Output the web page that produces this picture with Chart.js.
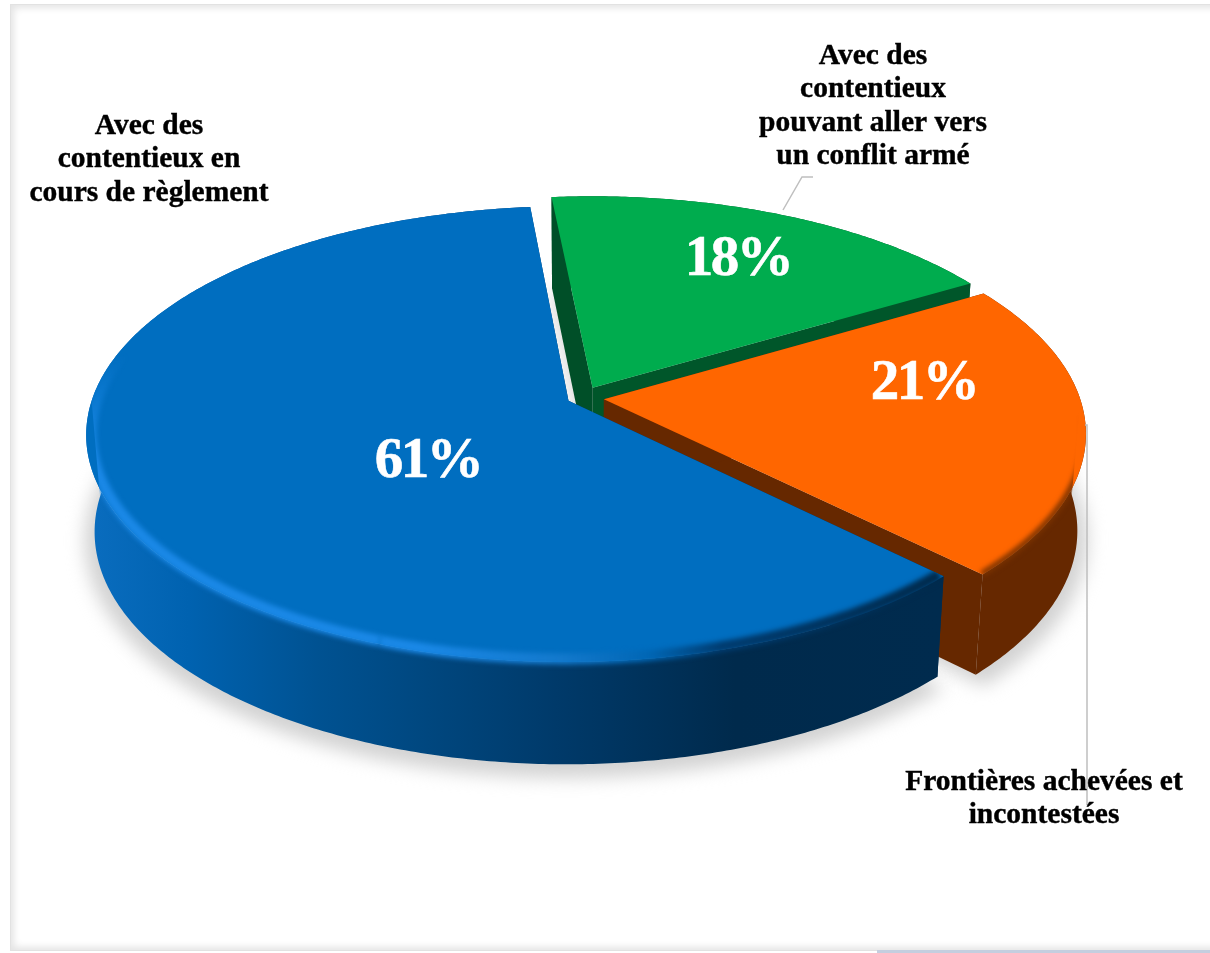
<!DOCTYPE html>
<html lang="fr">
<head>
<meta charset="utf-8">
<title>Frontières</title>
<script src="https://cdn.jsdelivr.net/npm/chart.js@4/dist/chart.umd.js"></script>
<style>
  html, body { margin: 0; padding: 0; background: #fff; overflow: hidden; }
  #page { position: relative; width: 1210px; height: 953px; overflow: hidden; }
  #frame {
    position: absolute; left: 10px; top: 4px; width: 1240px; height: 945px;
    border: 1px solid #e2e2e2;
    box-shadow: inset 0 0 7px 3px #e4e4e4;
  }
  #strip { position: absolute; left: 877px; top: 950px; width: 333px; height: 3px; background: #c4cedf; }
  canvas { position: absolute; left: 0; top: 0; }
</style>
</head>
<body>
<div id="page">
  <div id="frame"></div>
  <div id="strip"></div>
  <canvas id="chart" width="1210" height="953"></canvas>
</div>
<script>
const categories = [
  "Avec des contentieux pouvant aller vers un conflit armé",
  "Frontières achevées et incontestées",
  "Avec des contentieux en cours de règlement",
];
const shares = [18, 21, 61];

// slice styling, same order as the categories
const top_colors = ["#00ac4e", "#ff6600", "#006ec0"];
const wall_colors = ["#00502a", "#662800", "#002a4c"];
const explode = [24, 22, 14];

// view of the tilted disc
const VIEW = { cx: 581.5, cy: 398, rx: 476, ry: 222.2, persp: 0.1455, depth: 96, base_x: 0.983, base_y: 1.024 };

// name lines and where they sit, one entry per category
const name_labels = [
  { x: 873, y: 56, lines: ["Avec des", "contentieux", "pouvant aller vers", "un conflit armé"] },
  { x: 1044, y: 782, lines: ["Frontières achevées et", "incontestées"] },
  { x: 149, y: 126, lines: ["Avec des", "contentieux en", "cours de règlement"] },
];
const value_anchors = [[738, 260], [924, 384], [428, 462]];
const leaders = [
  [[783, 210], [802, 177], [813, 177]],
  [[1085, 425], [1087, 425], [1087, 805]],
];

function disc_point(arc, angle, radius_scale) {
  const mid = (arc.startAngle + arc.endAngle) / 2;
  const off = arc.options.offset / arc.outerRadius;
  return {
    x: Math.cos(angle) * radius_scale + Math.cos(mid) * off,
    z: Math.sin(angle) * radius_scale + Math.sin(mid) * off,
  };
}

function top_xy(p) {
  const s = 1 / (1 - VIEW.persp * p.z);
  return [VIEW.cx + VIEW.rx * p.x * s, VIEW.cy + VIEW.ry * p.z * s];
}

function base_xy(p, grow = 1, drop = 0) {
  const s = 1 / (1 - VIEW.persp * p.z);
  return [
    VIEW.cx + VIEW.rx * p.x * s * VIEW.base_x * grow,
    VIEW.cy + VIEW.depth + drop + VIEW.ry * p.z * s * VIEW.base_y * grow,
  ];
}

function rim_points(arc, from, to, project, radius_scale = 1) {
  const steps = Math.max(2, Math.ceil(Math.abs(to - from) / 0.01));
  const pts = [];
  for (let i = 0; i <= steps; i++) {
    pts.push(project(disc_point(arc, from + (to - from) * i / steps, radius_scale)));
  }
  return pts;
}

function trace(ctx, pts, close = true) {
  ctx.beginPath();
  pts.forEach((p, i) => (i ? ctx.lineTo(p[0], p[1]) : ctx.moveTo(p[0], p[1])));
  if (close) ctx.closePath();
}

function sector_points(arc, project) {
  const apex = project(disc_point(arc, arc.startAngle, 0));
  return [apex, ...rim_points(arc, arc.startAngle, arc.endAngle, project)];
}

function draw_shadow(ctx, arcs) {
  ctx.save();
  ctx.filter = "blur(9px)";
  ctx.fillStyle = "#d2d2d2";
  arcs.forEach((arc) => {
    trace(ctx, sector_points(arc, (p) => base_xy(p, 1.02, 8)));
    ctx.fill();
  });
  ctx.restore();
}

function radial_wall(arc, angle) {
  const tip_top = top_xy(disc_point(arc, angle, 1));
  const tip_base = base_xy(disc_point(arc, angle, 1));
  const apex_top = top_xy(disc_point(arc, angle, 0));
  const apex_base = base_xy(disc_point(arc, angle, 0));
  return [apex_top, tip_top, tip_base, apex_base];
}

function wall_fill(ctx, index) {
  if (index !== 2) return wall_colors[index];
  // the long blue wall darkens from left to right
  const g = ctx.createLinearGradient(86, 0, 940, 0);
  g.addColorStop(0, "#0a6dbf");
  g.addColorStop(0.12, "#0062b0");
  g.addColorStop(0.27, "#005292");
  g.addColorStop(0.4, "#00477f");
  g.addColorStop(0.55, "#003a6a");
  g.addColorStop(0.76, "#002a4c");
  g.addColorStop(1, "#002b4e");
  return g;
}

// soft edge where the face meets the wall; blue glows on its left and front
function draw_rim_glow(ctx, arc, index) {
  const deg = Math.PI / 180;
  const apex = top_xy(disc_point(arc, arc.startAngle, 0));
  const start_tip = top_xy(disc_point(arc, arc.startAngle, 1));
  const end_tip = top_xy(disc_point(arc, arc.endAngle, 1));
  const outline = index === 2
    ? [apex, start_tip, ...rim_points(arc, arc.startAngle, Math.PI, base_xy), ...rim_points(arc, Math.PI, arc.endAngle, top_xy)]
    : [apex, ...rim_points(arc, arc.startAngle, 0, top_xy), ...rim_points(arc, 0, arc.endAngle, base_xy), end_tip];
  ctx.save();
  trace(ctx, outline);
  ctx.clip();
  ctx.filter = "blur(2.5px)";
  if (index === 2) {
    const joint = 110 * deg;
    let g = ctx.createLinearGradient(420, 0, 940, 0);
    g.addColorStop(0, "#1a88e6");
    g.addColorStop(0.27, "#1379cc");
    g.addColorStop(0.44, "#0066b4");
    g.addColorStop(0.58, "#003c70");
    g.addColorStop(1, "#002a4c");
    ctx.strokeStyle = g;
    ctx.lineWidth = 11;
    trace(ctx, rim_points(arc, arc.startAngle, joint, top_xy, 0.99), false);
    ctx.stroke();
    g = ctx.createLinearGradient(0, 355, 0, 455);
    g.addColorStop(0, "rgba(26,136,230,0)");
    g.addColorStop(1, "#1a88e6");
    ctx.strokeStyle = g;
    trace(ctx, rim_points(arc, joint, 215 * deg, top_xy, 0.99), false);
    ctx.stroke();
  } else {
    const g = ctx.createLinearGradient(0, 415, 0, 455);
    g.addColorStop(0, "rgba(102,40,0,0)");
    g.addColorStop(1, "#7a3200");
    ctx.strokeStyle = g;
    ctx.lineWidth = 6;
    trace(ctx, rim_points(arc, arc.startAngle, arc.endAngle, top_xy, 0.998), false);
    ctx.stroke();
  }
  ctx.restore();
}

function draw_slice(ctx, arc, index) {
  const fill = wall_fill(ctx, index);
  const top_rim = rim_points(arc, arc.startAngle, arc.endAngle, top_xy);
  const base_rim = rim_points(arc, arc.startAngle, arc.endAngle, base_xy);

  ctx.fillStyle = fill;
  trace(ctx, [...top_rim, ...base_rim.reverse()]);
  ctx.fill();

  ctx.fillStyle = index === 0 ? "#00562a" : fill;
  trace(ctx, radial_wall(arc, arc.endAngle));
  ctx.fill();
  ctx.fillStyle = index === 0 ? "#004f28" : fill;
  trace(ctx, radial_wall(arc, arc.startAngle));
  ctx.fill();

  ctx.fillStyle = top_colors[index];
  trace(ctx, sector_points(arc, top_xy));
  ctx.fill();

  if (index > 0) draw_rim_glow(ctx, arc, index);
}

const pie3d = {
  id: "pie3d",
  beforeDatasetDraw(chart, args) {
    const arcs = chart.getDatasetMeta(args.index).data;
    const ctx = chart.ctx;
    draw_shadow(ctx, arcs);
    // back to front: green, orange, blue
    arcs.forEach((arc, i) => draw_slice(ctx, arc, i));
    return false;
  },
  afterDatasetsDraw(chart) {
    const ctx = chart.ctx;
    ctx.save();
    ctx.strokeStyle = "#bfbfbf";
    ctx.lineWidth = 1.5;
    leaders.forEach((pts) => {
      trace(ctx, pts, false);
      ctx.stroke();
    });

    ctx.textAlign = "center";
    ctx.textBaseline = "middle";
    ctx.fillStyle = "#000";
    ctx.strokeStyle = "#000";
    ctx.lineWidth = 0.4;
    ctx.font = 'bold 29.5px "Liberation Serif"';
    name_labels.forEach((lab) => {
      lab.lines.forEach((line, i) => {
        ctx.fillText(line, lab.x, lab.y + i * 33.6);
        ctx.strokeText(line, lab.x, lab.y + i * 33.6);
      });
    });

    ctx.font = 'bold 57px "Liberation Serif"';
    ctx.letterSpacing = "-2.5px";
    ctx.fillStyle = "#fff";
    ctx.strokeStyle = "#fff";
    ctx.lineWidth = 0.6;
    shares.forEach((v, i) => {
      ctx.fillText(v + "%", value_anchors[i][0], value_anchors[i][1]);
      ctx.strokeText(v + "%", value_anchors[i][0], value_anchors[i][1]);
    });
    ctx.restore();
  },
};

new Chart("chart", {
  type: "pie",
  data: {
    labels: categories,
    datasets: [{ data: shares, backgroundColor: top_colors, borderWidth: 0, offset: explode }],
  },
  options: {
    responsive: false,
    animation: false,
    rotation: -5.5,
    plugins: { legend: { display: false }, tooltip: { enabled: false } },
  },
  plugins: [pie3d],
});
</script>
</body>
</html>
